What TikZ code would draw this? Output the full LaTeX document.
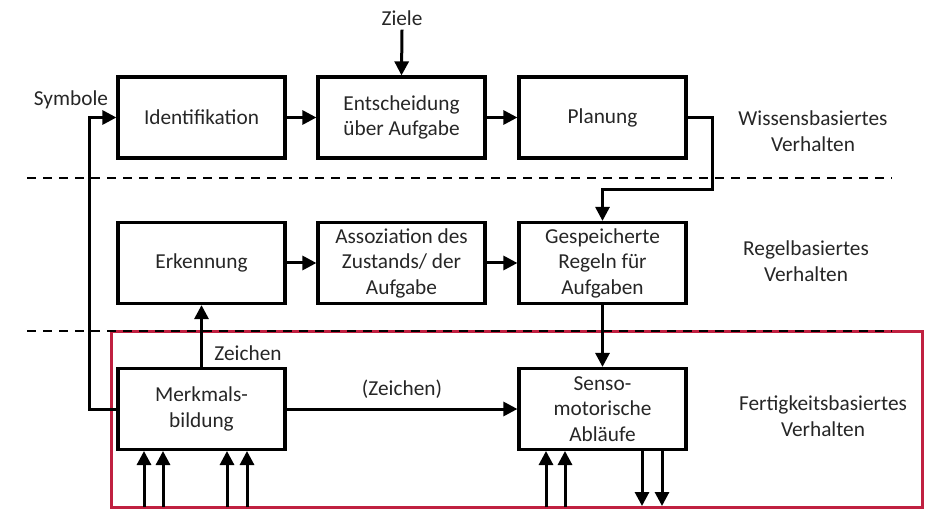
\documentclass[tikz,border=0pt]{standalone}
\usepackage{fontspec}
\setmainfont{Carlito}
\usetikzlibrary{arrows.meta}
\definecolor{boxred}{RGB}{192,32,64}
\begin{document}
\begin{tikzpicture}[x=1pt,y=-1pt,
  every node/.style={font=\fontsize{21.3}{25.5}\selectfont, text=black!85},
  blk/.style={draw=black, line width=3.2pt, minimum width=167pt, minimum height=81pt, align=center, inner sep=0pt},
  lbl/.style={align=center, inner sep=0pt},
  arr/.style={line width=3pt, -{Triangle[length=14pt,width=14pt]}},
  sep/.style={line width=1.8pt, dash pattern=on 9pt off 7pt}]
\useasboundingbox (0,0) rectangle (933,510);
% red frame
\draw[boxred, line width=3pt] (111,331) rectangle (922,507);
% dashed separators
\draw[sep] (27,178) -- (892,178);
\draw[sep] (27,331) -- (892,331);
% boxes
\node[blk] (ident) at (201.5,117.5) {Identifikation};
\node[blk] (ents) at (401.5,117.5) {Entscheidung\\über Aufgabe};
\node[blk] (plan) at (602.5,117.5) {Planung};
\node[blk] (erk) at (201.5,263) {Erkennung};
\node[blk] (ass) at (401.5,263) {Assoziation des\\Zustands/ der\\Aufgabe};
\node[blk] (gesp) at (602.5,263) {Gespeicherte\\Regeln für\\Aufgaben};
\node[blk] (merk) at (201.5,409) {Merkmals-\\bildung};
\node[blk] (senso) at (602.5,409) {Senso-\\motorische\\Abläufe};
% side labels
\node[lbl] at (813,131) {Wissensbasiertes\\Verhalten};
\node[lbl] at (806,261) {Regelbasiertes\\Verhalten};
\node[lbl] at (823,416) {Fertigkeitsbasiertes\\Verhalten};
% Ziele
\node[lbl] (ziele) at (402,18) {Ziele};
\draw[arr] (ziele.south) ++(0,4) coordinate (zs) -- (ents.north);
% horizontal flows
\draw[arr] (ident) -- (ents);
\draw[arr] (ents) -- (plan);
\draw[arr] (erk) -- (ass);
\draw[arr] (ass) -- (gesp);
% Planung -> Gespeicherte
\draw[arr] (plan.east) -- (712,117.5) -- (712,190) -- (602.5,190) -- (gesp.north);
% Gespeicherte -> Senso
\draw[arr] (gesp) -- (senso);
% Merkmals -> Erkennung
\draw[arr] (merk) -- (erk);
\node[lbl] (z1) at (248,353) {Zeichen};
% Merkmals -> Senso
\draw[arr] (merk) -- node[lbl, above=9pt] {(Zeichen)} (senso);
% Symbole loop
\node[lbl] (sym) at (71,100) {Symbole};
\draw[arr] (merk.west) -- (89,409) -- (89,117.5) -- (ident.west);
% inputs
\foreach \x in {144,163,227,247} \draw[arr] (\x,507) -- (\x,451);
\foreach \x in {546,565} \draw[arr] (\x,507) -- (\x,451);
\foreach \x in {642,662} \draw[arr] (\x,451) -- (\x,506);
\end{tikzpicture}
\end{document}
